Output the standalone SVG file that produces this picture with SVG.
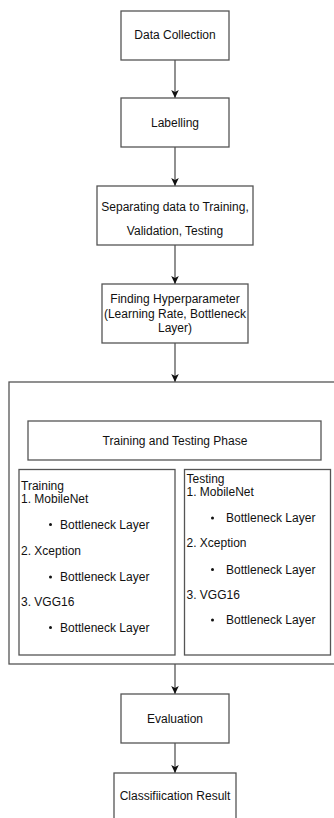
<svg xmlns="http://www.w3.org/2000/svg" width="334" height="818" viewBox="0 0 334 818">
<style>
.box{fill:#fff;stroke:#555;stroke-width:1.3}
.t{font-family:"Liberation Sans",Arial,sans-serif;font-size:12px;fill:#111}
.c{text-anchor:middle}
.edge{stroke:#555;stroke-width:1.3;fill:none}
.dot{fill:#111}
</style>
<defs>
<marker id="arr" markerUnits="userSpaceOnUse" markerWidth="10" markerHeight="10" viewBox="0 0 10 10" refX="9" refY="5" orient="auto">
<path d="M1,1.2 L9,5 L1,8.8 L3,5 Z" fill="#111"/>
</marker>
</defs>
<rect width="334" height="818" fill="#fff"/>
<g id="connectors">
<line class="edge" x1="175" y1="60" x2="175" y2="98" marker-end="url(#arr)"/>
<line class="edge" x1="175" y1="147" x2="175" y2="186" marker-end="url(#arr)"/>
<line class="edge" x1="175" y1="245" x2="175" y2="284" marker-end="url(#arr)"/>
<line class="edge" x1="175" y1="343" x2="175" y2="382" marker-end="url(#arr)"/>
<line class="edge" x1="175" y1="664" x2="175" y2="694" marker-end="url(#arr)"/>
<line class="edge" x1="175" y1="743" x2="175" y2="773" marker-end="url(#arr)"/>
</g>
<g id="data-collection">
<rect class="box" x="121" y="11" width="108" height="49"/>
<text class="t c" x="175" y="39">Data Collection</text>
</g>
<g id="labelling">
<rect class="box" x="121" y="98" width="108" height="49"/>
<text class="t c" x="175" y="127">Labelling</text>
</g>
<g id="separating">
<rect class="box" x="97" y="186" width="156" height="59"/>
<text class="t c" x="175" y="211">Separating data to Training,</text>
<text class="t c" x="175" y="235">Validation, Testing</text>
</g>
<g id="hyperparameter">
<rect class="box" x="102" y="284" width="146" height="59"/>
<text class="t c" x="175" y="303">Finding Hyperparameter</text>
<text class="t c" x="175" y="317.5">(Learning Rate, Bottleneck</text>
<text class="t c" x="175" y="331.5">Layer)</text>
</g>
<g id="phase-container">
<rect class="box" x="9" y="382" width="330" height="282"/>
</g>
<g id="phase-title">
<rect class="box" x="28" y="421" width="293" height="39"/>
<text class="t c" x="175" y="444.5">Training and Testing Phase</text>
</g>
<g id="training">
<rect class="box" x="19" y="469.5" width="156" height="185.5"/>
<text class="t" x="21" y="489.5">Training</text>
<text class="t" x="21" y="502.5">1. MobileNet</text>
<circle class="dot" cx="50.5" cy="524.5" r="1.5"/>
<text class="t" x="60" y="528.5">Bottleneck Layer</text>
<text class="t" x="21" y="554.5">2. Xception</text>
<circle class="dot" cx="50.5" cy="577" r="1.5"/>
<text class="t" x="60" y="581">Bottleneck Layer</text>
<text class="t" x="21" y="605.5">3. VGG16</text>
<circle class="dot" cx="50.5" cy="627.5" r="1.5"/>
<text class="t" x="60" y="631.5">Bottleneck Layer</text>
</g>
<g id="testing">
<rect class="box" x="184.5" y="469.5" width="146" height="185.5"/>
<text class="t" x="186.5" y="482.5">Testing</text>
<text class="t" x="186.5" y="496">1. MobileNet</text>
<circle class="dot" cx="212.5" cy="518" r="1.5"/>
<text class="t" x="226" y="522">Bottleneck Layer</text>
<text class="t" x="186.5" y="547">2. Xception</text>
<circle class="dot" cx="212.5" cy="569.5" r="1.5"/>
<text class="t" x="226" y="573.5">Bottleneck Layer</text>
<text class="t" x="186.5" y="598.5">3. VGG16</text>
<circle class="dot" cx="212.5" cy="620" r="1.5"/>
<text class="t" x="226" y="624">Bottleneck Layer</text>
</g>
<g id="evaluation">
<rect class="box" x="121" y="694" width="108" height="49"/>
<text class="t c" x="175" y="722.5">Evaluation</text>
</g>
<g id="classification">
<rect class="box" x="114" y="773" width="122" height="48"/>
<text class="t c" x="175" y="800">Classifiication Result</text>
</g>
</svg>
